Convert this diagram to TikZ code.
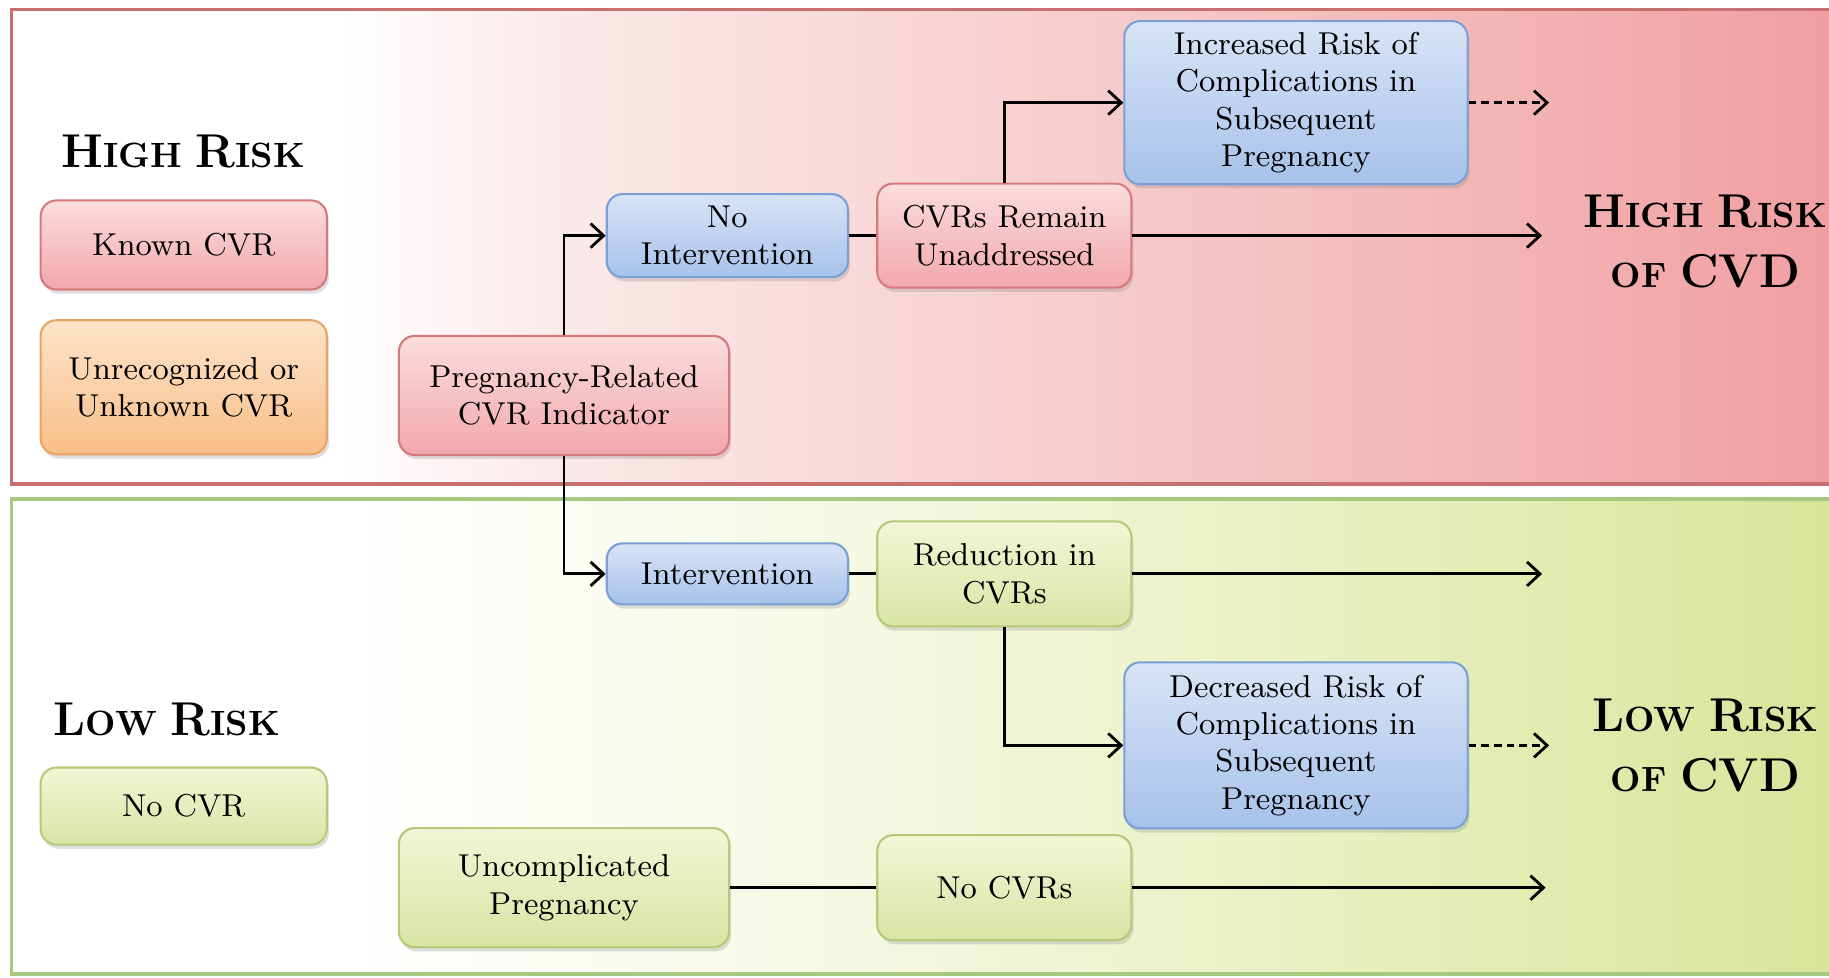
\documentclass[tikz,border=0pt]{standalone}
\usepackage{fontspec}
\usepackage{tikz}
\usetikzlibrary{arrows.meta,shadows}

\definecolor{hiA}{RGB}{251,233,233}
\definecolor{hiB}{RGB}{246,201,201}
\definecolor{hiC}{RGB}{243,180,180}
\definecolor{hiD}{RGB}{240,158,160}
\definecolor{loA}{RGB}{249,251,238}
\definecolor{loB}{RGB}{238,243,206}
\definecolor{loC}{RGB}{227,236,178}
\definecolor{loD}{RGB}{216,228,154}
\definecolor{hiframe}{RGB}{200,112,112}
\definecolor{loframe}{RGB}{168,200,128}

\definecolor{pinkT}{RGB}{251,221,221}
\definecolor{pinkB}{RGB}{242,168,172}
\definecolor{pinkD}{RGB}{214,122,126}
\definecolor{blueT}{RGB}{216,228,246}
\definecolor{blueB}{RGB}{166,194,234}
\definecolor{blueD}{RGB}{122,160,214}
\definecolor{greenT}{RGB}{242,246,214}
\definecolor{greenB}{RGB}{216,229,164}
\definecolor{greenD}{RGB}{180,202,122}
\definecolor{orangeT}{RGB}{253,228,202}
\definecolor{orangeB}{RGB}{248,190,136}
\definecolor{orangeD}{RGB}{232,164,98}

\pgfdeclarehorizontalshading{highbg}{100bp}{color(0bp)=(white); color(25bp)=(white);
  color(34bp)=(white); color(40bp)=(hiA); color(56bp)=(hiB); color(66bp)=(hiC);
  color(75bp)=(hiD); color(100bp)=(hiD)}
\pgfdeclarehorizontalshading{lowbg}{100bp}{color(0bp)=(white); color(25bp)=(white);
  color(34bp)=(white); color(43bp)=(loA); color(56bp)=(loB); color(66bp)=(loC);
  color(75bp)=(loD); color(100bp)=(loD)}

% large letter, then small capitals
\newcommand{\smcap}[2]{{\fontsize{13.5}{16}\selectfont #1}{\fontsize{10}{16}\selectfont #2}}

\begin{document}
\begin{tikzpicture}[x=0.011665cm, y=-0.011665cm,
  box/.style={draw, rounded corners=4.5pt, line width=0.6pt, align=center,
    inner sep=2pt, font=\fontsize{9}{10.6}\selectfont,
    drop shadow={shadow xshift=0.6pt, shadow yshift=-1.2pt, opacity=0.25}},
  pinkbox/.style={box, draw=pinkD, top color=pinkT, bottom color=pinkB},
  bluebox/.style={box, draw=blueD, top color=blueT, bottom color=blueB},
  greenbox/.style={box, draw=greenD, top color=greenT, bottom color=greenB},
  orangebox/.style={box, draw=orangeD, top color=orangeT, bottom color=orangeB},
  risk/.style={font=\bfseries, align=center},
  link/.style={line width=0.8pt},
  flow/.style={link, -{Straight Barb[length=1.3mm,width=2.4mm,line width=0.8pt]}},
  maybe/.style={flow, dash pattern=on 2.2pt off 1.4pt}]

\useasboundingbox (0,0) rectangle (1568,838);

% panels
\shade[shading=highbg, draw=hiframe, line width=1pt] (10,8) rectangle (1580,415);
\shade[shading=lowbg, draw=loframe, line width=1pt] (10,428) rectangle (1580,835);

% legend
\node[risk] (hightitle) at (157,130) {\smcap{H}{IGH} \smcap{R}{ISK}};
\node[pinkbox, minimum width=2.86cm, minimum height=0.89cm] (known) at (157.5,210) {Known CVR};
\node[orangebox, minimum width=2.86cm, minimum height=1.34cm] (unrec) at (157.5,332) {Unrecognized or\\Unknown CVR};
\node[risk] (lowtitle) at (143,617) {\smcap{L}{OW} \smcap{R}{ISK}};
\node[greenbox, minimum width=2.86cm, minimum height=0.77cm] (nocvr) at (157.5,691) {No CVR};

% high risk path
\node[pinkbox, minimum width=3.30cm, minimum height=1.19cm] (preg) at (483.5,339) {Pregnancy-Related\\CVR Indicator};
\node[bluebox, minimum width=2.41cm, minimum height=0.83cm] (noint) at (623.5,202) {No\\Intervention};
\node[pinkbox, minimum width=2.54cm, minimum height=1.04cm] (remain) at (861,202) {CVRs Remain\\Unaddressed};
\node[bluebox, minimum width=3.43cm, minimum height=1.63cm] (incr) at (1111,88) {Increased Risk of\\Complications in\\Subsequent\\Pregnancy};
\node[risk] (highcvd) at (1462,207) {\smcap{H}{IGH} \smcap{R}{ISK}\\[5pt]\smcap{}{OF} \smcap{CVD}{}};

% low risk path
\node[bluebox, minimum width=2.41cm, minimum height=0.61cm] (interv) at (623.5,492) {Intervention};
\node[greenbox, minimum width=2.54cm, minimum height=1.05cm] (reduc) at (861,492) {Reduction in\\CVRs};
\node[bluebox, minimum width=3.43cm, minimum height=1.66cm] (decr) at (1111,639) {Decreased Risk of\\Complications in\\Subsequent\\Pregnancy};
\node[greenbox, minimum width=3.30cm, minimum height=1.19cm] (uncomp) at (483.5,761) {Uncomplicated\\Pregnancy};
\node[greenbox, minimum width=2.54cm, minimum height=1.05cm] (nocvrs) at (861,761) {No CVRs};
\node[risk] (lowcvd) at (1462,639) {\smcap{L}{OW} \smcap{R}{ISK}\\[5pt]\smcap{}{OF} \smcap{CVD}{}};

\coordinate (hiend) at (1322,202);
\coordinate (hidash) at (1328,88);
\coordinate (loend) at (1322,492);
\coordinate (lodash) at (1328,639);
\coordinate (noend) at (1325,761);

% connectors
\draw[flow] (preg.north) |- (noint.west);
\draw[link] (noint) -- (remain);
\draw[flow] (remain.north) |- (incr.west);
\draw[flow] (remain.east) -- (hiend);
\draw[maybe] (incr.east) -- (hidash);
\draw[flow] (preg.south) |- (interv.west);
\draw[link] (interv) -- (reduc);
\draw[flow] (reduc.east) -- (loend);
\draw[flow] (reduc.south) |- (decr.west);
\draw[maybe] (decr.east) -- (lodash);
\draw[link] (uncomp) -- (nocvrs);
\draw[flow] (nocvrs.east) -- (noend);
\end{tikzpicture}
\end{document}
